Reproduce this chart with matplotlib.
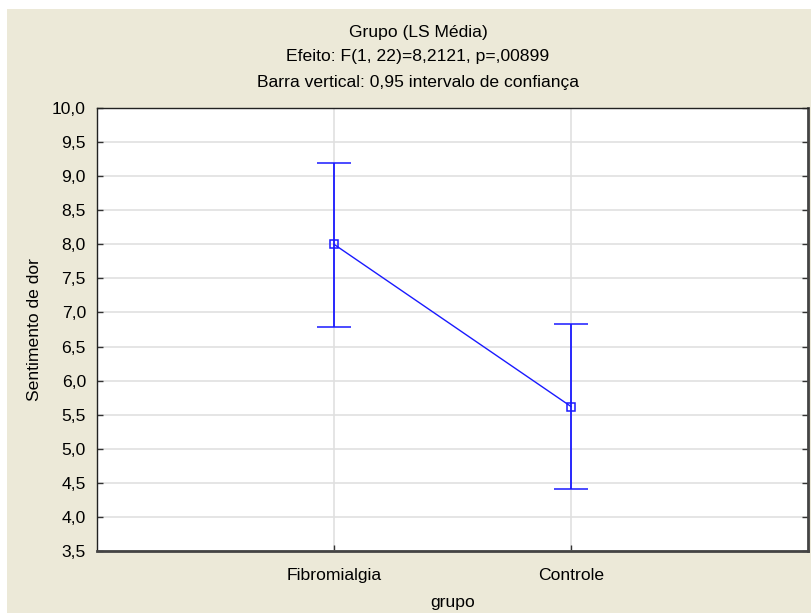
import matplotlib
matplotlib.use("Agg")
import matplotlib.pyplot as plt
from matplotlib.patches import Rectangle

categories = ["Fibromialgia", "Controle"]
means = [8.0, 5.62]
ci_low = [6.79, 4.41]
ci_high = [9.20, 6.83]
yticks = [3.5, 4.0, 4.5, 5.0, 5.5, 6.0, 6.5, 7.0, 7.5, 8.0, 8.5, 9.0, 9.5, 10.0]
title_lines = ["Grupo (LS Média)", "Efeito: F(1, 22)=8,2121, p=,00899",
               "Barra vertical: 0,95 intervalo de confiança"]

plt.rcParams['font.family'] = ['Liberation Sans', 'DejaVu Sans']
W, H = 811, 613
fs = 12.6
fig = plt.figure(figsize=(W / 100, H / 100), dpi=100, facecolor='white')
fig.patches.append(Rectangle((7 / W, 0), 1 - 7 / W, 1 - 9 / H, transform=fig.transFigure,
                             facecolor='#ECE9D8', edgecolor='none', zorder=-10))

left, right, top, bottom = 97, 808, 108, 551
ax = fig.add_axes([left / W, 1 - bottom / H, (right - left) / W, (bottom - top) / H])
ax.set_facecolor('white')

x = list(range(1, len(categories) + 1))
blue = '#1a1aff'
yerr = [[m - l for m, l in zip(means, ci_low)], [h - m for m, h in zip(means, ci_high)]]
ax.errorbar(x, means, yerr=yerr, color=blue, lw=1, elinewidth=1.3, capsize=12, capthick=1.3,
            marker='s', markersize=5.5, markerfacecolor='none', markeredgecolor=blue,
            markeredgewidth=1.1, zorder=3)

ax.set_xlim(0, len(categories) + 1)
ax.set_ylim(3.5, 10.0)
ax.set_xticks(x)
ax.set_xticklabels(categories)
ax.set_yticks(yticks)
ax.set_yticklabels([f"{v:.1f}".replace('.', ',') for v in yticks])
ax.grid(True, color='#e0e0e0', lw=1.2)
ax.set_axisbelow(True)
ax.tick_params(axis='both', direction='in', length=4, width=1, colors='#333333',
               labelsize=fs, labelcolor='black', pad=8, right=True)
ax.tick_params(axis='x', pad=12)
for s in ['left', 'top']:
    ax.spines[s].set_color('#222222'); ax.spines[s].set_linewidth(1)
for s in ['right', 'bottom']:
    ax.spines[s].set_color('#444444'); ax.spines[s].set_linewidth(2)

ax.set_ylabel("Sentimento de dor", fontsize=fs, labelpad=7)
fig.text((left + right) / 2 / W, 1 - 603 / H, "grupo", ha='center', va='center', fontsize=fs)

ys = [33, 57, 83]
for t, yy in zip(title_lines, ys):
    fig.text(418 / W, 1 - yy / H, t, ha='center', va='center', fontsize=fs)

fig.savefig("out.png", dpi=100, facecolor=fig.get_facecolor())
